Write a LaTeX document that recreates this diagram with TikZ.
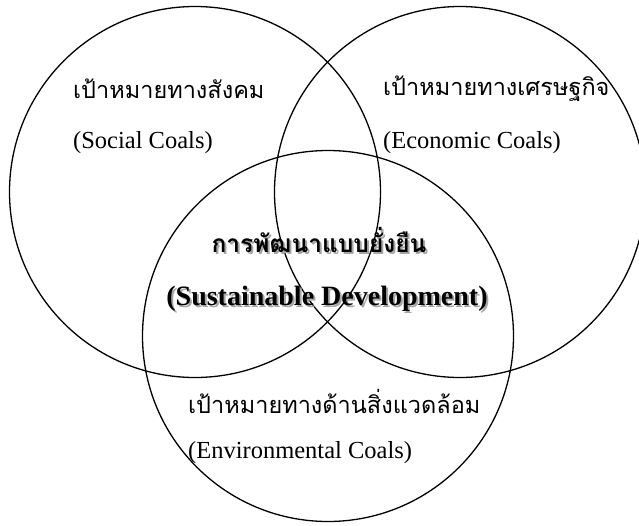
\documentclass[tikz,border=0pt]{standalone}
\usepackage{fontspec}
\setmainfont{Liberation Serif}
\newfontfamily\thaifont[Script=Thai]{Loma}
\newcommand{\dropshadow}[1]{\leavevmode\rlap{\kern2pt\raisebox{-2pt}{\color{black!35}#1}}#1}

\begin{document}
\begin{tikzpicture}[x=1pt, y=-1pt, every node/.append style={inner sep=0pt}]
      \tikzstyle{goal} = [circle, draw=black, line width=1.3pt, minimum size=371pt]
      \tikzstyle{thai} = [font=\thaifont\fontsize{23.5}{28}\selectfont, anchor=west]
      \tikzstyle{eng} = [font=\fontsize{24.5}{29}\selectfont, anchor=west]
      \tikzstyle{core} = [font=\bfseries\fontsize{28}{33}\selectfont]
      \tikzstyle{corethai} = [font=\thaifont\bfseries\fontsize{24.5}{29}\selectfont]
      \useasboundingbox (0,0) rectangle (639,525);
      \node (social) [goal] at (195,192) {};
      \node (economic) [goal] at (460,192) {};
      \node (environment) [goal] at (328,336) {};
      \node (socialTh) [thai] at (73,89) {เป้าหมายทางสังคม};
      \node (socialEn) [eng] at (73,143) {(Social Coals)};
      \node (economicTh) [thai] at (383,89) {เป้าหมายทางเศรษฐกิจ};
      \node (economicEn) [eng] at (383,143) {(Economic Coals)};
      \node (environmentTh) [thai] at (188,401) {เป้าหมายทางด้านสิ่งแวดล้อม};
      \node (environmentEn) [eng] at (188,453) {(Environmental Coals)};
      \node (coreTh) [corethai] at (319,241) {\dropshadow{การพัฒนาแบบยั่งยืน}};
      \node (coreEn) [core] at (327,300) {\dropshadow{(Sustainable Development)}};
    \end{tikzpicture}
\end{document}
